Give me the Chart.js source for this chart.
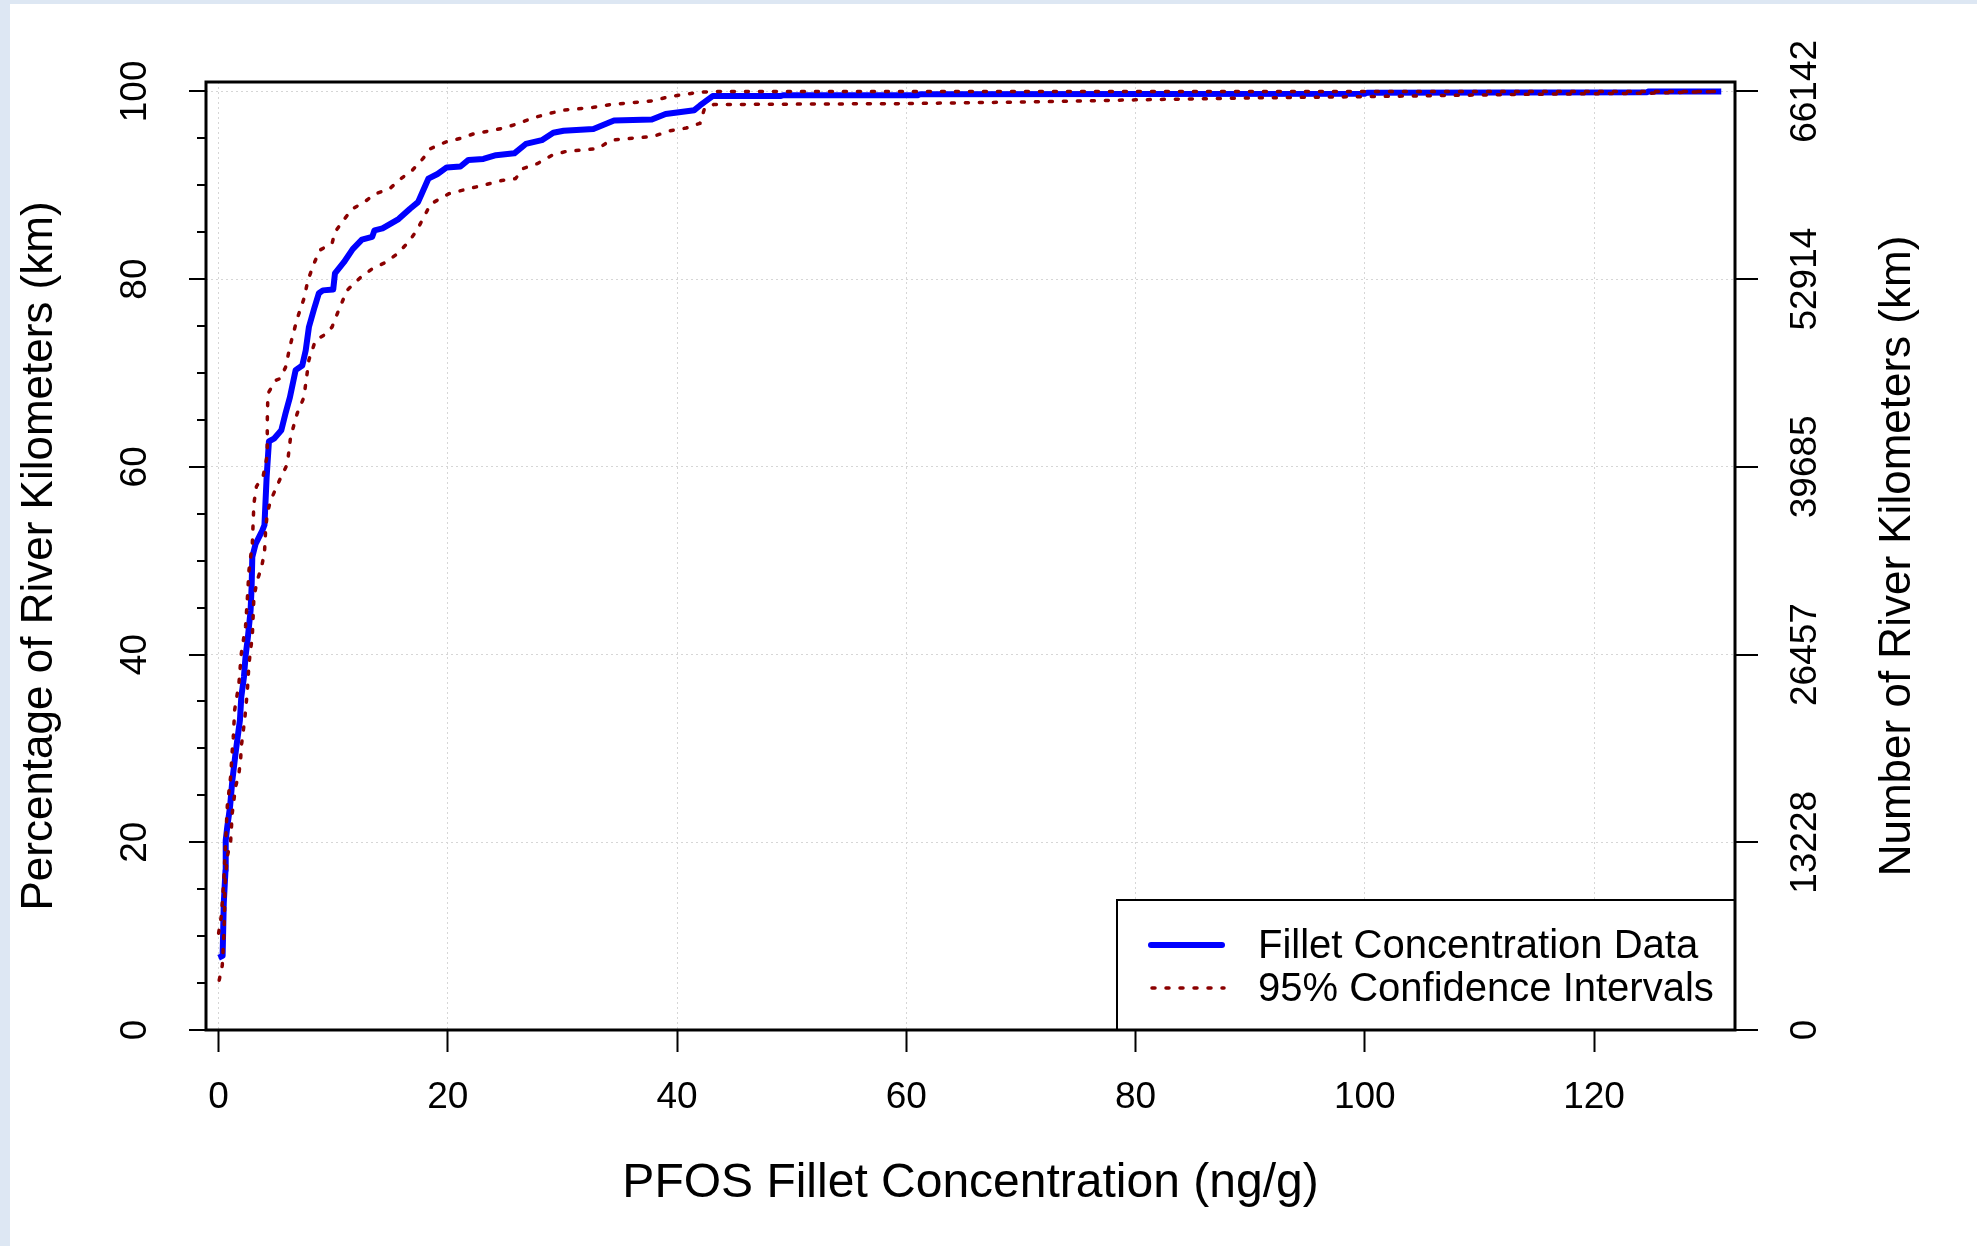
<!DOCTYPE html>
<html lang="en">
<head>
  <meta charset="UTF-8">
  <title>PFOS Fillet Concentration CDF</title>
  <script src="https://cdn.jsdelivr.net/npm/chart.js"></script>
  <style>
    html, body { margin: 0; padding: 0; background: #ffffff; }
    #wrap { width: 1977px; height: 1246px; }
  </style>
</head>
<body>
  <div id="wrap">
    <canvas id="cdfChart" width="1977" height="1246"></canvas>
  </div>

  <script>
    // Fillet concentration CDF (percent of river km)
    const blueX = [0.0, 0.35, 0.45, 0.6, 0.62, 0.76, 1.0, 1.2, 1.48, 1.63, 1.86, 1.98, 2.21, 2.35, 2.56, 2.79, 2.88, 2.94, 3.23, 3.81,
      4.0, 4.19, 4.39, 4.83, 5.47, 5.84, 6.22, 6.72, 7.3, 7.6, 7.88, 8.37, 8.75, 9.1, 10.0, 10.15, 10.93, 11.7, 12.5, 13.4,
      13.6, 14.3, 15.7, 16.7, 17.4, 17.8, 18.3, 19.1, 19.9, 21.1, 21.8, 23.1, 24.2, 25.8, 26.8, 28.2, 29.2, 30.1, 32.7, 34.5,
      37.8, 39.0, 41.5, 42.0, 43.1, 49.0, 49.3, 61.0, 61.2, 100.0, 100.2, 124.6, 124.8, 131.1];
    const blueY = [7.7, 7.9, 13.5, 17.0, 20.2, 21.7, 23.8, 26.6, 29.5, 30.9, 33.0, 35.5, 37.6, 39.8, 41.9, 44.7, 47.2, 50.4, 51.8, 53.2,
      53.8, 58.9, 62.7, 63.0, 63.9, 65.7, 67.4, 70.3, 70.8, 72.4, 74.9, 77.0, 78.5, 78.8, 78.9, 80.6, 81.8, 83.2, 84.2, 84.5,
      85.2, 85.4, 86.4, 87.5, 88.2, 89.3, 90.7, 91.2, 91.9, 92.0, 92.7, 92.8, 93.2, 93.4, 94.4, 94.8, 95.6, 95.8, 96.0, 96.9,
      97.0, 97.6, 98.0, 98.5, 99.5, 99.5, 99.6, 99.6, 99.7, 99.75, 99.85, 99.9, 100, 100];

    // upper 95% confidence bound
    const upperX = [0.0, 0.23, 0.32, 0.47, 0.55, 0.7, 0.76, 1.05, 1.19, 1.28, 1.4, 1.77, 1.98, 2.21, 2.35, 2.5, 2.65, 2.94, 3.08, 3.3,
      3.9, 4.24, 4.25, 4.3, 4.97, 5.35, 5.84, 6.28, 6.86, 7.44, 7.8, 8.3, 8.84, 9.9, 10.15, 10.9, 11.7, 12.7, 13.7, 14.9,
      15.9, 16.9, 17.8, 18.5, 19.8, 21.1, 22.3, 23.7, 24.9, 26.2, 27.5, 28.7, 30.1, 32.7, 34.2, 37.9, 39.2, 40.7, 42.0, 43.2, 131.1];
    const upperY = [10.3, 12.1, 13.5, 16.3, 18.5, 22.4, 23.9, 27.0, 29.8, 31.2, 34.1, 36.9, 40.1, 41.9, 43.0, 45.8, 49.0, 51.8, 56.1, 57.9,
      59.1, 61.2, 65.0, 67.8, 69.2, 69.4, 70.6, 73.1, 75.8, 77.9, 79.9, 81.6, 83.1, 83.8, 85.0, 86.3, 87.5, 88.2, 89.1, 89.6,
      90.7, 91.6, 92.8, 93.9, 94.6, 95.0, 95.5, 95.8, 96.1, 96.6, 97.2, 97.6, 98.0, 98.3, 98.6, 99.0, 99.4, 99.7, 99.9, 100, 100];

    // lower 95% confidence bound
    const lowerX = [0.05, 0.32, 0.47, 0.52, 0.55, 0.6, 0.76, 1.05, 1.19, 1.48, 1.77, 1.92, 1.98, 2.27, 2.5, 2.65, 2.79, 2.94, 3.08, 3.37,
      3.72, 4.0, 4.1, 4.24, 4.53, 5.4, 6.0, 6.28, 6.86, 7.44, 7.88, 8.46, 9.3, 9.9, 10.35, 11.2, 12.4, 13.4, 14.6, 15.6,
      16.6, 17.3, 17.9, 18.5, 20.1, 21.7, 23.1, 24.7, 25.9, 26.6, 27.8, 29.1, 30.3, 33.1, 34.2, 37.9, 39.4, 40.8, 42.0, 42.4,
      43.2, 60.0, 72.0, 80.0, 90.0, 100.0, 115.0, 124.6, 131.1];
    const lowerY = [5.3, 6.9, 10.3, 12.8, 15.3, 16.3, 18.5, 20.1, 23.1, 25.9, 27.3, 28.8, 30.2, 33.0, 36.0, 39.0, 40.5, 41.9, 46.1, 47.9,
      49.2, 50.8, 53.2, 55.0, 56.4, 58.8, 60.3, 63.2, 65.7, 67.4, 71.4, 73.5, 74.1, 74.9, 76.3, 78.8, 80.2, 81.1, 81.8, 82.7,
      84.0, 85.2, 86.6, 88.0, 89.1, 89.6, 90.0, 90.5, 90.7, 91.8, 92.3, 93.2, 93.6, 93.9, 94.8, 95.2, 95.8, 96.1, 96.6, 98.2,
      98.6, 98.7, 98.9, 99.1, 99.3, 99.44, 99.7, 99.8, 100];

    // axis ticks
    const xTicks = [0, 20, 40, 60, 80, 100, 120];
    const pctTicks = [0, 20, 40, 60, 80, 100];
    const pctMinorTicks = [5, 10, 15, 25, 30, 35, 45, 50, 55, 65, 70, 75, 85, 90, 95];
    const kmTicks = [0, 13228, 26457, 39685, 52914, 66142];
    const kmPerPct = 661.42;

    const legendLabels = ["Fillet Concentration Data", "95% Confidence Intervals"];
    const FONT = "'Liberation Sans', Arial, sans-serif";

    const toPoints = (xs, ys) => xs.map((x, i) => ({ x: x, y: ys[i] }));

    // R-style frame, rotated axis labels, titles and legend
    const rChrome = {
      id: "rChrome",
      beforeDraw(chart) {
        const ctx = chart.ctx;
        ctx.save();
        ctx.fillStyle = "#dde7f3";
        ctx.fillRect(0, 0, chart.width, chart.height);
        ctx.fillStyle = "#ffffff";
        ctx.fillRect(10, 4, chart.width - 10, chart.height - 4);
        ctx.restore();
      },
      afterDraw(chart) {
        const ctx = chart.ctx;
        const ca = chart.chartArea;
        const y = chart.scales.y;
        const y2 = chart.scales.y2;
        ctx.save();

        // left ticks
        ctx.strokeStyle = "#000";
        ctx.lineWidth = 2;
        pctTicks.concat(pctMinorTicks).forEach(v => {
          const py = Math.round(y.getPixelForValue(v));
          const len = pctTicks.includes(v) ? 17 : 9;
          ctx.beginPath();
          ctx.moveTo(ca.left, py);
          ctx.lineTo(ca.left - len, py);
          ctx.stroke();
        });
        // right ticks
        kmTicks.forEach(v => {
          const py = Math.round(y2.getPixelForValue(v));
          ctx.beginPath();
          ctx.moveTo(ca.right, py);
          ctx.lineTo(ca.right + 23, py);
          ctx.stroke();
        });

        // legend
        const lx = 1117, ly = 900;
        ctx.fillStyle = "#fff";
        ctx.fillRect(lx, ly, ca.right - lx, ca.bottom - ly);
        ctx.lineWidth = 2;
        ctx.strokeRect(lx, ly, ca.right - lx, ca.bottom - ly);
        ctx.lineCap = "round";
        ctx.strokeStyle = "#0000ff";
        ctx.lineWidth = 6;
        ctx.beginPath();
        ctx.moveTo(1151, 945);
        ctx.lineTo(1222, 945);
        ctx.stroke();
        ctx.strokeStyle = "#8b0000";
        ctx.lineWidth = 3.5;
        ctx.setLineDash([3, 11]);
        ctx.beginPath();
        ctx.moveTo(1152, 988);
        ctx.lineTo(1224, 988);
        ctx.stroke();
        ctx.setLineDash([]);
        ctx.lineCap = "butt";
        ctx.fillStyle = "#000";
        ctx.font = "40px " + FONT;
        ctx.textAlign = "left";
        ctx.textBaseline = "middle";
        ctx.fillText(legendLabels[0], 1258, 947);
        ctx.fillText(legendLabels[1], 1258, 990);

        // box
        ctx.strokeStyle = "#000";
        ctx.lineWidth = 3;
        ctx.strokeRect(ca.left, ca.top, ca.right - ca.left, ca.bottom - ca.top);

        // rotated tick labels
        ctx.font = "37px " + FONT;
        ctx.textAlign = "center";
        ctx.textBaseline = "middle";
        pctTicks.forEach(v => {
          ctx.save();
          ctx.translate(136, y.getPixelForValue(v));
          ctx.rotate(-Math.PI / 2);
          ctx.fillText(String(v), 0, 0);
          ctx.restore();
        });
        kmTicks.forEach(v => {
          ctx.save();
          ctx.translate(1806, y2.getPixelForValue(v));
          ctx.rotate(-Math.PI / 2);
          ctx.fillText(String(v), 0, 0);
          ctx.restore();
        });

        // axis titles
        const midY = (ca.top + ca.bottom) / 2;
        ctx.font = "48px " + FONT;
        ctx.fillText("PFOS Fillet Concentration (ng/g)", (ca.left + ca.right) / 2, 1184);
        ctx.font = "44px " + FONT;
        ctx.save();
        ctx.translate(40, midY);
        ctx.rotate(-Math.PI / 2);
        ctx.fillText("Percentage of River Kilometers (km)", 0, 0);
        ctx.restore();
        ctx.save();
        ctx.translate(1898, midY);
        ctx.rotate(-Math.PI / 2);
        ctx.fillText("Number of River Kilometers (km)", 0, 0);
        ctx.restore();

        ctx.restore();
      }
    };

    const ctx = document.getElementById("cdfChart").getContext("2d");
    const chart = new Chart(ctx, {
      type: "line",
      data: {
        datasets: [
          {
            label: legendLabels[1], data: toPoints(upperX, upperY),
            borderColor: "#8b0000", borderWidth: 3.5, borderDash: [3, 11], borderCapStyle: "round",
            pointRadius: 0, tension: 0, fill: false
          },
          {
            label: "lower", data: toPoints(lowerX, lowerY),
            borderColor: "#8b0000", borderWidth: 3.5, borderDash: [3, 11], borderCapStyle: "round",
            pointRadius: 0, tension: 0, fill: false
          },
          {
            label: legendLabels[0], data: toPoints(blueX, blueY),
            borderColor: "#0000ff", borderWidth: 6, borderJoinStyle: "round",
            pointRadius: 0, tension: 0, fill: false
          }
        ]
      },
      options: {
        responsive: false,
        animation: false,
        devicePixelRatio: 1,
        layout: { padding: { top: 82, left: 0, right: 0, bottom: 0 } },
        plugins: { legend: { display: false }, tooltip: { enabled: false } },
        scales: {
          x: {
            type: "linear", position: "bottom", min: -1.1, max: 132.3,
            afterBuildTicks: s => { s.ticks = xTicks.map(v => ({ value: v })); },
            afterFit: s => { s.height = 216; },
            ticks: { color: "#000", font: { family: FONT, size: 37 }, padding: 24, maxRotation: 0, autoSkip: false },
            grid: { color: "#d6d6d6", lineWidth: 1, drawTicks: true, tickLength: 22, tickColor: "#000", tickWidth: 2 },
            border: { display: false, dash: [2, 3] }
          },
          y: {
            type: "linear", position: "left", min: 0, max: 101,
            afterBuildTicks: s => { s.ticks = pctTicks.map(v => ({ value: v })); },
            afterFit: s => { s.width = 206; },
            ticks: { display: false },
            grid: { color: "#d6d6d6", lineWidth: 1, drawTicks: false },
            border: { display: false, dash: [2, 3] }
          },
          y2: {
            type: "linear", position: "right", min: 0, max: 101 * kmPerPct,
            afterBuildTicks: s => { s.ticks = kmTicks.map(v => ({ value: v })); },
            afterFit: s => { s.width = 242; },
            ticks: { display: false },
            grid: { drawOnChartArea: false, drawTicks: false },
            border: { display: false }
          }
        }
      },
      plugins: [rChrome]
    });
  </script>
</body>
</html>
